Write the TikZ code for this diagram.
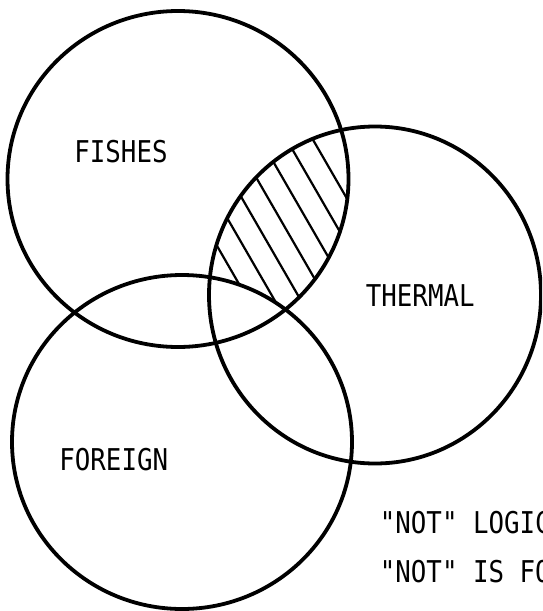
\documentclass[tikz,border=0pt]{standalone}
\usepackage{fontspec}
\newfontfamily\vennfont[FakeStretch=0.86]{DejaVu Sans Mono}
\begin{document}
\begin{tikzpicture}[x=.5pt,y=-.5pt,line width=1.9pt,
  set label/.style={anchor=base west,inner sep=0pt,font=\vennfont\fontsize{15}{15}\selectfont},
  hatch line/.style={line width=1.1pt}]
\useasboundingbox (0,0) rectangle (542,611);
\clip (0,0) rectangle (542,611);
\begin{scope}[even odd rule]
\clip (178,179) ellipse [x radius=170.5,y radius=168];
\clip (375,295) ellipse [x radius=166,y radius=168.5];
\clip (0,0) rectangle (542,611) (182,442) ellipse [x radius=170,y radius=167];
\draw[hatch line] (144.3,120)--(265.6,330);
\draw[hatch line] (170.6,120)--(291.8,330);
\draw[hatch line] (196.8,120)--(318.0,330);
\draw[hatch line] (223.0,120)--(344.2,330);
\draw[hatch line] (249.2,120)--(370.4,330);
\draw[hatch line] (275.4,120)--(396.6,330);
\draw[hatch line] (301.6,120)--(422.8,330);
\end{scope}
\draw (178,179) ellipse [x radius=170.5,y radius=168];
\draw (375,295) ellipse [x radius=166,y radius=168.5];
\draw (182,442) ellipse [x radius=170,y radius=167];
\node[set label] (fishes) at (72.5,162) {FISHES};
\node[set label] (thermal) at (364,306) {THERMAL};
\node[set label] (foreign) at (57.5,470) {FOREIGN};
\node[set label] (notlogic) at (378,533) {"NOT" LOGIC};
\node[set label] (notis) at (378,582) {"NOT" IS FO};
\end{tikzpicture}
\end{document}
